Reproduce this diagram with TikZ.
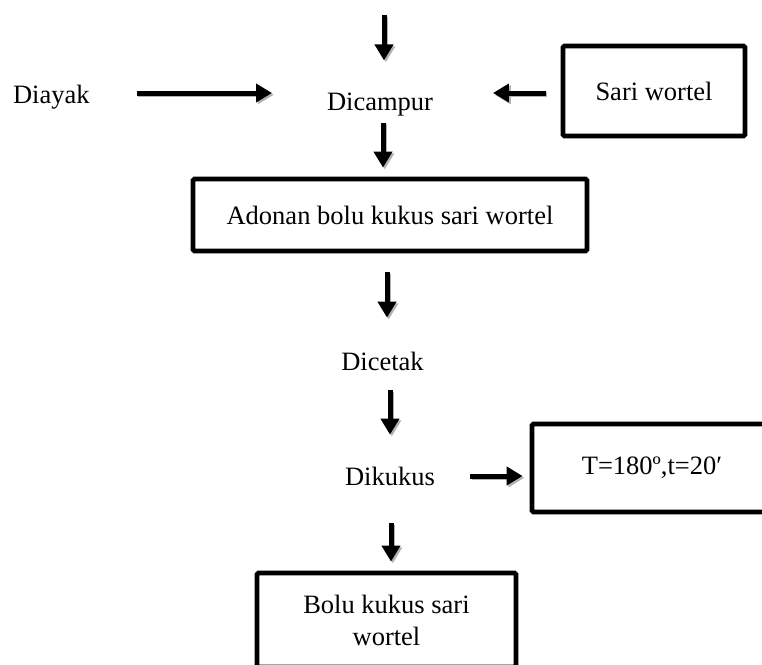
\documentclass[tikz,border=0pt]{standalone}
\usepackage{fontspec}
\setmainfont{Liberation Serif}
\usetikzlibrary{arrows.meta,calc}
\begin{document}
\begin{tikzpicture}[x=1pt,y=-1pt,
  txt/.style={inner sep=0pt, outer sep=0pt, font=\fontsize{26.5}{32}\selectfont},
  box/.style={draw, line width=4.8pt, rounded corners=1.5pt, inner sep=0pt, font=\fontsize{26.5}{32}\selectfont, align=center},
  arr/.style={line width=5pt, -{Triangle[length=16pt,width=18pt]},
    preaction={draw=black!30, line width=5pt, -{Triangle[length=16pt,width=18pt]},
      transform canvas={shift={(1.8pt,-1.8pt)}}}}
]
\useasboundingbox (0,0) rectangle (762,664);
\clip (0,0) rectangle (762,664);

% text nodes
\node[txt, anchor=base west] (diayak) at (13,103) {Diayak};
\node[txt, anchor=base] (camp) at (380,110) {Dicampur};
\node[txt, anchor=base] (cetak) at (382.5,370) {Dicetak};
\node[txt, anchor=base] (kukus) at (390,485) {Dikukus};

% boxes
\node[box, minimum width=182pt, minimum height=90pt] (sari) at (654,91) {Sari wortel};
\node[box, minimum width=394pt, minimum height=72pt] (adonan) at (390,215) {Adonan bolu kukus sari wortel};
\node[box, minimum width=240pt, minimum height=88pt] (suhu) at (652,468) {T=180º,t=20′};
\node[box, minimum width=259pt, minimum height=94pt] (bolu) at (386.5,620) {Bolu kukus sari\\wortel};

% helper coordinates
\coordinate (ctop) at (384,15);
\coordinate (ya) at (0,93);
\coordinate (yb) at (0,476);

% arrows
\draw[arr, shorten >=32pt] (ctop) -- (ctop |- camp.north);
\draw[arr, shorten <=47pt, shorten >=55pt] (diayak.east |- ya) -- (camp.west |- ya);
\draw[arr, shorten <=15pt, shorten >=60pt] (sari.west |- ya) -- (camp.east |- ya);
\draw[arr, shorten <=7pt, shorten >=9pt] ([xshift=3pt]camp.south) -- ([xshift=3pt]camp.south |- adonan.north);
\draw[arr, shorten <=19pt, shorten >=34pt] ([xshift=-3pt]adonan.south) -- ([xshift=-3pt]adonan.south |- cetak.north);
\draw[arr, shorten <=20pt, shorten >=32pt] ([xshift=7.5pt]cetak.south) -- ([xshift=7.5pt]cetak.south |- kukus.north);
\draw[arr, shorten <=35pt, shorten >=7pt] (kukus.east |- yb) -- (suhu.west |- yb);
\draw[arr, shorten <=38pt, shorten >=9pt] ([xshift=1pt]kukus.south) -- ([xshift=1pt]kukus.south |- bolu.north);
\end{tikzpicture}
\end{document}
